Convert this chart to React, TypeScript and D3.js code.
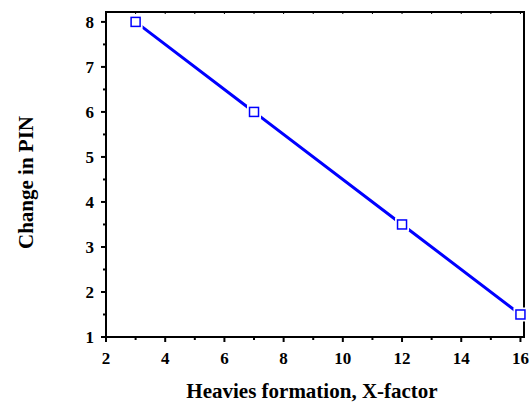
import { useEffect, useRef } from 'react'
import * as d3 from 'd3'

const xFactor = [3, 7, 12, 16]
const pinChange = [8, 6, 3.5, 1.5]
const xTicks = [2, 4, 6, 8, 10, 12, 14, 16]
const yTicks = [1, 2, 3, 4, 5, 6, 7, 8]

export default function App() {
  const svgRef = useRef<SVGSVGElement>(null)

  useEffect(() => {
    if (!svgRef.current) return
    const svg = d3.select(svgRef.current)
    svg.selectAll('*').remove()

    const W = 532
    const H = 405
    const left = 106, right = 524, top = 12, bottom = 337
    const font = "'Liberation Serif', 'Times New Roman', serif"

    const x = d3.scaleLinear().domain([2, 16.12]).range([left, right])
    const y = d3.scaleLinear().domain([1, 8.22]).range([bottom, top])

    svg.attr('width', W).attr('height', H)

    // frame
    svg.append('rect')
      .attr('x', left).attr('y', top)
      .attr('width', right - left).attr('height', bottom - top)
      .attr('fill', 'none').attr('stroke', '#000').attr('stroke-width', 2)

    // bottom axis
    const minorX = d3.range(2, 17, 1)
    svg.selectAll('.xt')
      .data(minorX)
      .enter().append('line')
      .attr('x1', d => x(d)).attr('x2', d => x(d))
      .attr('y1', bottom).attr('y2', d => bottom + (d % 2 === 0 ? 5 : 3))
      .attr('stroke', '#000').attr('stroke-width', 2)

    // top minor ticks (inside)
    svg.selectAll('.xtt')
      .data(minorX)
      .enter().append('line')
      .attr('x1', d => x(d)).attr('x2', d => x(d))
      .attr('y1', top).attr('y2', top + 2)
      .attr('stroke', '#000').attr('stroke-width', 1)

    svg.selectAll('.xl')
      .data(xTicks)
      .enter().append('text')
      .attr('x', d => x(d)).attr('y', 364)
      .attr('text-anchor', 'middle')
      .attr('font-family', font).attr('font-weight', 'bold').attr('font-size', 17)
      .text(d => d)

    // left axis
    const minorY = d3.range(1, 8.01, 0.5)
    svg.selectAll('.yt')
      .data(minorY)
      .enter().append('line')
      .attr('x1', left).attr('x2', d => left - (d % 1 === 0 ? 5 : 3))
      .attr('y1', d => y(d)).attr('y2', d => y(d))
      .attr('stroke', '#000').attr('stroke-width', 2)

    svg.selectAll('.yl')
      .data(yTicks)
      .enter().append('text')
      .attr('x', left - 12).attr('y', d => y(d) + 6)
      .attr('text-anchor', 'end')
      .attr('font-family', font).attr('font-weight', 'bold').attr('font-size', 17)
      .text(d => d)

    // titles
    svg.append('text')
      .attr('x', (left + right) / 2 - 3).attr('y', 398)
      .attr('text-anchor', 'middle')
      .attr('font-family', font).attr('font-weight', 'bold').attr('font-size', 21)
      .text('Heavies formation, X-factor')

    svg.append('text')
      .attr('transform', `translate(33,${(top + bottom) / 2 + 8}) rotate(-90)`)
      .attr('text-anchor', 'middle')
      .attr('font-family', font).attr('font-weight', 'bold').attr('font-size', 21)
      .text('Change in PIN')

    const pts = xFactor.map((d, i) => ({ x: d, y: pinChange[i] }))

    const line = d3.line<{ x: number; y: number }>()
      .x(d => x(d.x))
      .y(d => y(d.y))

    svg.append('path')
      .datum(pts)
      .attr('fill', 'none')
      .attr('stroke', '#0000ff')
      .attr('stroke-width', 3)
      .attr('d', line)

    // white halo so line stops short of the marker
    svg.selectAll('.halo')
      .data(pts)
      .enter().append('rect')
      .attr('x', d => x(d.x) - 7).attr('y', d => y(d.y) - 7)
      .attr('width', 14).attr('height', 14)
      .attr('fill', '#fff')

    svg.selectAll('.dot')
      .data(pts)
      .enter().append('rect')
      .attr('x', d => x(d.x) - 4.5).attr('y', d => y(d.y) - 4.5)
      .attr('width', 9).attr('height', 9)
      .attr('fill', '#fff')
      .attr('stroke', '#0000ff')
      .attr('stroke-width', 1.5)
  }, [])

  return (
    <div style={{ position: 'absolute', left: 0, top: 0 }}>
      <svg ref={svgRef} style={{ display: 'block' }}></svg>
    </div>
  )
}
